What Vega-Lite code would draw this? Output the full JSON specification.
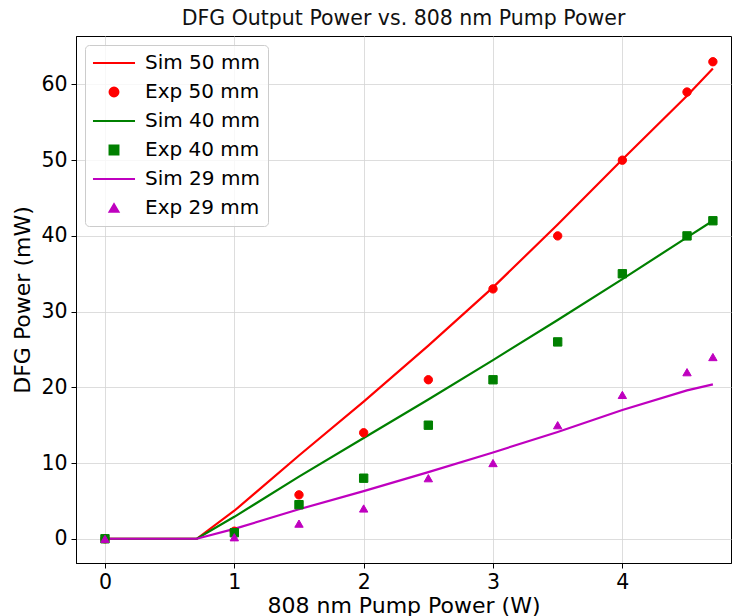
{
  "$schema": "https://vega.github.io/schema/vega-lite/v6.json",
  "width": 655,
  "height": 527,
  "autosize": "none",
  "padding": {"left": 76, "top": 36, "right": 1, "bottom": 53},
  "background": "white",
  "title": {"text": "DFG Output Power vs. 808 nm Pump Power", "font": "DejaVu Sans", "fontSize": 20.5, "fontWeight": "normal", "color": "#111", "offset": 7},
  "config": {
    "font": "DejaVu Sans",
    "view": {"stroke": "black", "strokeWidth": 1},
    "axis": {"labelFont": "DejaVu Sans", "titleFont": "DejaVu Sans", "labelFontSize": 20.5, "titleFontSize": 22, "titleFontWeight": "normal", "labelColor": "black", "titleColor": "black", "gridColor": "#d4d4d4", "gridWidth": 0.8, "domainColor": "black", "tickColor": "black", "tickSize": 5, "labelPadding": 4}
  },
  "data": {"values": [
    {"series": "Sim 50 mm", "kind": "sim", "x": 0, "y": 0},
    {"series": "Sim 50 mm", "kind": "sim", "x": 0.71, "y": 0},
    {"series": "Sim 50 mm", "kind": "sim", "x": 1, "y": 3.7},
    {"series": "Sim 50 mm", "kind": "sim", "x": 1.5, "y": 11.0},
    {"series": "Sim 50 mm", "kind": "sim", "x": 2, "y": 18.1},
    {"series": "Sim 50 mm", "kind": "sim", "x": 2.5, "y": 25.5},
    {"series": "Sim 50 mm", "kind": "sim", "x": 3, "y": 33.2},
    {"series": "Sim 50 mm", "kind": "sim", "x": 3.5, "y": 41.5},
    {"series": "Sim 50 mm", "kind": "sim", "x": 4, "y": 50.1},
    {"series": "Sim 50 mm", "kind": "sim", "x": 4.5, "y": 58.5},
    {"series": "Sim 50 mm", "kind": "sim", "x": 4.7, "y": 62.1},
    {"series": "Sim 40 mm", "kind": "sim", "x": 0, "y": 0},
    {"series": "Sim 40 mm", "kind": "sim", "x": 0.71, "y": 0},
    {"series": "Sim 40 mm", "kind": "sim", "x": 1, "y": 2.9},
    {"series": "Sim 40 mm", "kind": "sim", "x": 1.5, "y": 8.2},
    {"series": "Sim 40 mm", "kind": "sim", "x": 2, "y": 13.3},
    {"series": "Sim 40 mm", "kind": "sim", "x": 2.5, "y": 18.4},
    {"series": "Sim 40 mm", "kind": "sim", "x": 3, "y": 23.6},
    {"series": "Sim 40 mm", "kind": "sim", "x": 3.5, "y": 28.9},
    {"series": "Sim 40 mm", "kind": "sim", "x": 4, "y": 34.3},
    {"series": "Sim 40 mm", "kind": "sim", "x": 4.5, "y": 39.8},
    {"series": "Sim 40 mm", "kind": "sim", "x": 4.7, "y": 42},
    {"series": "Sim 29 mm", "kind": "sim", "x": 0, "y": 0},
    {"series": "Sim 29 mm", "kind": "sim", "x": 0.71, "y": 0},
    {"series": "Sim 29 mm", "kind": "sim", "x": 1, "y": 1.3},
    {"series": "Sim 29 mm", "kind": "sim", "x": 1.5, "y": 3.9},
    {"series": "Sim 29 mm", "kind": "sim", "x": 2, "y": 6.3},
    {"series": "Sim 29 mm", "kind": "sim", "x": 2.5, "y": 8.8},
    {"series": "Sim 29 mm", "kind": "sim", "x": 3, "y": 11.4},
    {"series": "Sim 29 mm", "kind": "sim", "x": 3.5, "y": 14.1},
    {"series": "Sim 29 mm", "kind": "sim", "x": 4, "y": 17.0},
    {"series": "Sim 29 mm", "kind": "sim", "x": 4.5, "y": 19.6},
    {"series": "Sim 29 mm", "kind": "sim", "x": 4.7, "y": 20.4},
    {"series": "Exp 50 mm", "kind": "exp", "x": 0, "y": 0},
    {"series": "Exp 50 mm", "kind": "exp", "x": 1, "y": 1},
    {"series": "Exp 50 mm", "kind": "exp", "x": 1.5, "y": 5.8},
    {"series": "Exp 50 mm", "kind": "exp", "x": 2, "y": 14},
    {"series": "Exp 50 mm", "kind": "exp", "x": 2.5, "y": 21},
    {"series": "Exp 50 mm", "kind": "exp", "x": 3, "y": 33},
    {"series": "Exp 50 mm", "kind": "exp", "x": 3.5, "y": 40},
    {"series": "Exp 50 mm", "kind": "exp", "x": 4, "y": 50},
    {"series": "Exp 50 mm", "kind": "exp", "x": 4.5, "y": 59},
    {"series": "Exp 50 mm", "kind": "exp", "x": 4.7, "y": 63},
    {"series": "Exp 40 mm", "kind": "exp", "x": 0, "y": 0},
    {"series": "Exp 40 mm", "kind": "exp", "x": 1, "y": 0.8},
    {"series": "Exp 40 mm", "kind": "exp", "x": 1.5, "y": 4.5},
    {"series": "Exp 40 mm", "kind": "exp", "x": 2, "y": 8},
    {"series": "Exp 40 mm", "kind": "exp", "x": 2.5, "y": 15},
    {"series": "Exp 40 mm", "kind": "exp", "x": 3, "y": 21},
    {"series": "Exp 40 mm", "kind": "exp", "x": 3.5, "y": 26},
    {"series": "Exp 40 mm", "kind": "exp", "x": 4, "y": 35},
    {"series": "Exp 40 mm", "kind": "exp", "x": 4.5, "y": 40},
    {"series": "Exp 40 mm", "kind": "exp", "x": 4.7, "y": 42},
    {"series": "Exp 29 mm", "kind": "exp", "x": 0, "y": 0},
    {"series": "Exp 29 mm", "kind": "exp", "x": 1, "y": 0.2},
    {"series": "Exp 29 mm", "kind": "exp", "x": 1.5, "y": 2},
    {"series": "Exp 29 mm", "kind": "exp", "x": 2, "y": 4},
    {"series": "Exp 29 mm", "kind": "exp", "x": 2.5, "y": 8},
    {"series": "Exp 29 mm", "kind": "exp", "x": 3, "y": 10},
    {"series": "Exp 29 mm", "kind": "exp", "x": 3.5, "y": 15},
    {"series": "Exp 29 mm", "kind": "exp", "x": 4, "y": 19},
    {"series": "Exp 29 mm", "kind": "exp", "x": 4.5, "y": 22},
    {"series": "Exp 29 mm", "kind": "exp", "x": 4.7, "y": 24}
  ]},
  "encoding": {
    "x": {"field": "x", "type": "quantitative", "title": "808 nm Pump Power (W)", "scale": {"domain": [-0.224, 4.84], "nice": false, "zero": false}, "axis": {"values": [0, 1, 2, 3, 4], "format": "d", "titlePadding": 3}},
    "y": {"field": "y", "type": "quantitative", "title": "DFG Power (mW)", "scale": {"domain": [-3.2, 66.4], "nice": false, "zero": false}, "axis": {"values": [0, 10, 20, 30, 40, 50, 60], "titlePadding": 6}},
    "color": {"field": "series", "type": "nominal", "title": null,
      "scale": {"domain": ["Sim 50 mm", "Exp 50 mm", "Sim 40 mm", "Exp 40 mm", "Sim 29 mm", "Exp 29 mm"], "range": ["#ff0000", "#ff0000", "#008000", "#008000", "#bf00bf", "#bf00bf"]},
      "legend": {"orient": "top-left", "offset": 9, "labelFontSize": 20, "labelFont": "DejaVu Sans", "labelColor": "black", "fillColor": "rgba(255,255,255,0.8)", "strokeColor": "#cccccc", "cornerRadius": 4, "padding": 8, "rowPadding": 9, "symbolSize": 80, "symbolOffset": 11, "labelOffset": 21, "symbolStrokeWidth": 2}
    }
  },
  "layer": [
    {"transform": [{"filter": "datum.kind === 'sim'"}], "mark": {"type": "line", "strokeWidth": 2.2}},
    {"transform": [{"filter": "datum.kind === 'exp'"}], "mark": {"type": "point", "filled": false, "opacity": 1, "strokeWidth": 1, "size": 70},
      "encoding": {
        "fill": {"field": "series", "type": "nominal", "title": null,
          "scale": {"domain": ["Sim 50 mm", "Exp 50 mm", "Sim 40 mm", "Exp 40 mm", "Sim 29 mm", "Exp 29 mm"], "range": ["#ff0000", "#ff0000", "#008000", "#008000", "#bf00bf", "#bf00bf"]}},
        "shape": {"field": "series", "type": "nominal", "title": null,
          "scale": {"domain": ["Sim 50 mm", "Exp 50 mm", "Sim 40 mm", "Exp 40 mm", "Sim 29 mm", "Exp 29 mm"], "range": ["M-4.7,0H4.7", "circle", "M-4.7,0H4.7", "square", "M-4.7,0H4.7", "triangle-up"]}}
      }
    }
  ]
}
